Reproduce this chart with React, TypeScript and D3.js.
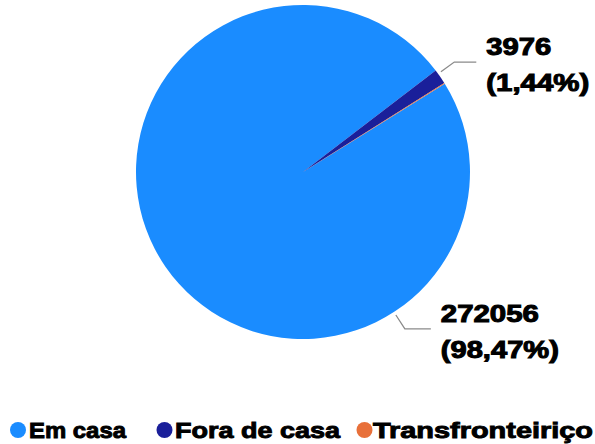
import React from "react";
import * as d3 from "d3";

// ---- data ----
const categories = ["Em casa", "Fora de casa", "Transfronteiriço"];
const values = [272056, 3976, 250];

// ---- style / layout ----
const colors = ["#1a8cff", "#1a1f9a", "#e8703a"];
const W = 595;
const H = 444;
const CX = 303;
const CY = 172;
const R = 167;
const START_DEG = 58.1;
// label anchor angle (deg clockwise from top), null = no label
const labelAngles: (number | null)[] = [147, 54, null];
const labelHoriz = [26, 22, 0];
const labelWidths = [
  [98, 118],
  [65, 103],
];
const legendCircleX = [18, 164.5, 364.5];
const legendTextX = [29, 175, 373];
const legendTextW = [97, 165, 220];

const FONT = "'Liberation Sans', Arial, Helvetica, sans-serif";

export default function App() {
  const total = d3.sum(values);
  const start = (START_DEG * Math.PI) / 180;
  const pie = d3
    .pie<number>()
    .sort(null)
    .startAngle(start)
    .endAngle(start + 2 * Math.PI);
  const arcs = pie(values);
  const arcGen = d3.arc<d3.PieArcDatum<number>>().innerRadius(0).outerRadius(R);
  const pctFmt = (v: number) =>
    "(" + ((v / total) * 100).toFixed(2).replace(".", ",") + "%)";

  const pt = (deg: number, r: number): [number, number] => {
    const a = (deg * Math.PI) / 180;
    return [CX + r * Math.sin(a), CY - r * Math.cos(a)];
  };

  return (
    <svg
      width={W}
      height={H}
      viewBox={`0 0 ${W} ${H}`}
      style={{ position: "absolute", left: 0, top: 0, background: "#fff" }}
    >
      <g transform={`translate(${CX},${CY})`}>
        {arcs.map((a, i) => (
          <path key={i} d={arcGen(a) || ""} fill={colors[i]} />
        ))}
      </g>
      {arcs.map((a, i) => {
        const ang = labelAngles[i];
        if (ang == null) return null;
        const p0 = pt(ang, R + 3.5);
        const p1 = pt(ang, R + 20);
        const p2: [number, number] = [p1[0] + labelHoriz[i], p1[1]];
        const tx = p2[0] + 10;
        return (
          <g key={"l" + i}>
            <polyline
              points={[p0, p1, p2].map((p) => p.join(",")).join(" ")}
              fill="none"
              stroke="#8a8a8a"
              strokeWidth={1.3}
            />
            <text
              x={tx}
              y={p1[1] - 7}
              fontFamily={FONT}
              fontWeight="bold"
              fontSize={23}
              fill="#000"
              stroke="#000"
              strokeWidth={1}
              textLength={labelWidths[i][0]}
              lengthAdjust="spacingAndGlyphs"
            >
              {String(values[i])}
            </text>
            <text
              x={tx}
              y={p1[1] + 29}
              fontFamily={FONT}
              fontWeight="bold"
              fontSize={23}
              fill="#000"
              stroke="#000"
              strokeWidth={1}
              textLength={labelWidths[i][1]}
              lengthAdjust="spacingAndGlyphs"
            >
              {pctFmt(values[i])}
            </text>
          </g>
        );
      })}
      <g>
        {categories.map((c, i) => (
          <g key={"lg" + i}>
            <circle cx={legendCircleX[i]} cy={430} r={8} fill={colors[i]} />
            <text
              x={legendTextX[i]}
              y={438}
              fontFamily={FONT}
              fontWeight="bold"
              fontSize={21.5}
              fill="#000"
              stroke="#000"
              strokeWidth={0.9}
              textLength={legendTextW[i]}
              lengthAdjust="spacingAndGlyphs"
            >
              {c}
            </text>
          </g>
        ))}
      </g>
    </svg>
  );
}
